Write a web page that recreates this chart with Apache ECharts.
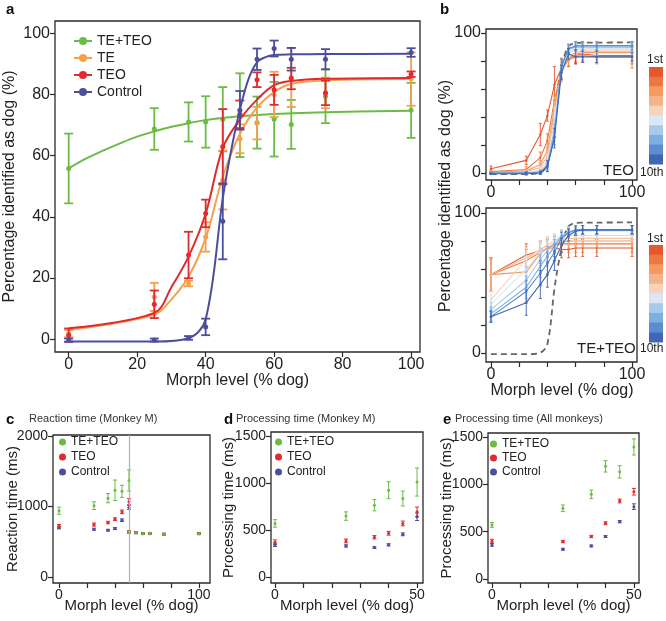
<!DOCTYPE html>
<html><head><meta charset="utf-8">
<script src="https://cdn.jsdelivr.net/npm/echarts@6/dist/echarts.min.js"></script>
<style>html,body{margin:0;padding:0;background:#fff}#chart{width:666px;height:621px}</style>
</head><body><div id="chart"></div>
<script>
// ---------------- DATA ----------------
// Panel a: percentage identified as dog
const morphA = [0, 25, 35, 40, 45, 50, 55, 60, 65, 75, 100];
const teTeoA = [55.8, 68.7, 71, 71, 71.9, 73.2, 70.8, 71.9, 70.2, 79.4, 74.8];
const teTeoAErr = [11.4, 6.8, 6.4, 8.4, 10.5, 13.7, 8.5, 12.2, 8, 8.8, 9];
const teA = [1.8, 13.8, 18.2, 33.4, 52, 65.5, 70.6, 80, 85.5, 80.5, 85];
const teAErr = [1.2, 4.6, 0.9, 4.8, 9.6, 4.7, 5.3, 7.4, 9.6, 5, 8.7];
const teoA = [1.3, 11.4, 27.5, 41.1, 62.9, 73.5, 84.8, 81.5, 85.2, 80.5, 86.6];
const teoAErr = [2.2, 4.5, 7.6, 4.5, 12.3, 4.5, 2.4, 4.9, 3.5, 4, 0.9];
const ctrlA = [-0.3, -0.3, 0.4, 4, 38.5, 74.8, 91.5, 95, 91.5, 91.5, 93.7];
const ctrlAErr = [0.5, 0.5, 0.6, 2.7, 12.4, 6.3, 3.5, 2.6, 3.7, 3.3, 1.4];
// fitted curves
const greenFitX = [0, 5, 10, 15, 20, 25, 30, 35, 40, 45, 50, 60, 75, 100];
const greenFit = [55.8, 59, 61.6, 64, 66.2, 67.9, 69.4, 70.6, 71.6, 72.3, 72.9, 73.6, 74.2, 74.7];
const orangeFitX = [0, 25, 30, 35, 40, 45, 50, 55, 60, 65, 75, 100];
const orangeFit = [3, 8, 13, 20.4, 33, 53, 67.2, 75.7, 80.8, 83.5, 84.6, 85];
const redFitX = [0, 25, 30, 35, 40, 45, 50, 55, 60, 65, 75, 100];
const redFit = [3.6, 8.6, 17, 27, 41, 62.5, 71.8, 78.3, 83, 84.4, 85.1, 85.4];
const blueFitX = [0, 25, 35, 40, 45, 47.5, 50, 52.5, 55, 57.5, 60, 65, 75, 100];
const blueFit = [-0.8, -0.8, 0.3, 6.5, 46, 62, 75, 85, 90.5, 92.2, 92.9, 93.1, 93.2, 93.3];

// Panel b: sessions 1st..10th
const sessionColors = ['#e4582c', '#ec7840', '#f29a62', '#f5b488', '#f6d3bd', '#dbe8f4', '#a8cbea', '#7eaedf', '#5b8ed0', '#3f67b3'];
const teoSess = [
  [3, 9, 27.5, 41, 63, 75, 82, 84, 85, 84, 84],
  [1, 2.5, 11, 23, 52, 73, 81, 83, 84, 83, 83],
  [0.5, 1.5, 6, 16, 47, 72, 82, 85, 86, 86, 86],
  [0, 1, 4, 12, 44, 71, 84, 86, 87, 87, 87],
  [0, 0.5, 2, 9, 40, 72, 86, 88, 88, 88, 88],
  [0, 0, 1.5, 7, 36, 73, 87, 89, 89, 89, 89],
  [0, 0, 1, 6, 32, 74, 88, 90, 90, 90, 90],
  [0, 0, 0.5, 5, 29, 76, 89, 90, 90, 90, 90],
  [0, 0, 0.5, 4, 26, 77, 89, 91, 91, 91, 91],
  [-0.5, -0.5, 0, 5, 25, 72, 85, 83, 83, 83, 83]
];
const teoSessErr = [
  [2, 3, 8, 4, 13, 7, 6, 5, 5, 5, 6],
  [1, 2, 4, 5, 9, 6, 5, 5, 5, 5, 8],
  [1, 1.5, 3, 5, 8, 6, 5, 5, 5, 5, 8],
  [0.5, 1, 3, 4, 7, 6, 4, 4, 4, 4, 6],
  [0.5, 1, 2, 4, 7, 5, 4, 4, 4, 4, 5],
  [0.5, 1, 2, 3, 7, 5, 4, 3, 3, 3, 4],
  [0.5, 1, 1.5, 3, 6, 5, 3, 3, 3, 3, 4],
  [0.5, 1, 1.5, 3, 6, 4, 3, 3, 3, 3, 3],
  [0.5, 1, 1, 3, 6, 4, 3, 3, 3, 3, 3],
  [0.5, 1, 1, 4, 7, 5, 4, 5, 4, 4, 3]
];
const teTeoSess = [
  [56, 70, 73, 75, 75, 74, 74, 75, 75, 75, 75],
  [56, 66, 72, 75, 77, 78, 78, 78, 78, 78, 78],
  [56, 58, 71, 75, 78, 79, 80, 80, 80, 80, 80],
  [56, 68, 74, 77, 80, 81, 82, 82, 82, 82, 82],
  [38, 67, 74, 77, 80, 82, 84, 84, 84, 84, 84],
  [35, 60, 72, 76, 80, 84, 86, 87, 87, 87, 87],
  [31, 52, 67, 73, 78, 84, 86, 88, 88, 88, 88],
  [28, 47, 62, 69, 76, 83, 86, 88, 88, 88, 88],
  [26, 44, 57, 64, 72, 82, 86, 88, 88, 88, 88],
  [26, 36, 49, 56, 66, 77, 84, 87, 88, 88, 88]
];
const teTeoSessErr = [
  [12, 8, 7, 6, 6, 6, 6, 6, 6, 6, 6],
  [12, 8, 7, 7, 6, 6, 6, 6, 6, 6, 6],
  [12, 9, 7, 6, 6, 5, 5, 5, 5, 5, 5],
  [10, 8, 6, 6, 5, 5, 5, 5, 5, 5, 5],
  [6, 8, 6, 6, 5, 5, 4, 4, 4, 4, 4],
  [6, 9, 7, 6, 5, 4, 4, 4, 4, 4, 4],
  [5, 9, 8, 7, 5, 4, 4, 3, 3, 3, 3],
  [5, 8, 8, 7, 5, 4, 3, 3, 3, 3, 3],
  [4, 8, 9, 8, 6, 4, 3, 3, 3, 3, 3],
  [4, 9, 10, 9, 7, 5, 4, 3, 3, 3, 3]
];

// Panels c-e
const morphCDE = [0, 25, 35, 40, 45, 50];
const rtTeTeo = [940, 1012, 1118, 1230, 1215, 1370];
const rtTeTeoErr = [50, 55, 65, 145, 85, 150];
const rtTeo = [720, 744, 772, 820, 924, 1066];
const rtTeoErr = [25, 22, 18, 20, 25, 45];
const rtCtrl = [701, 678, 664, 687, 806, 990];
const rtCtrlErr = [18, 14, 12, 14, 18, 30];
const morphDog = [50, 55, 60, 65, 75, 100];
const rtDogCtrl = [638, 626, 614, 614, 605, 612];
const rtDogTeo = [645, 632, 620, 620, 610, 618];
const rtDogTeTeo = [640, 628, 617, 617, 608, 615];
const rtDogErr = [15, 12, 10, 10, 10, 10];

const ptTeTeo = [570, 648, 764, 923, 835, 1011];
const ptTeTeoErr = [40, 45, 60, 90, 80, 150];
const ptTeo = [370, 384, 423, 465, 570, 694];
const ptTeoErr = [25, 20, 18, 20, 25, 50];
const ptCtrl = [342, 331, 313, 342, 454, 641];
const ptCtrlErr = [18, 12, 10, 12, 15, 40];

const ptAllTeTeo = [571, 747, 894, 1190, 1132, 1395];
const ptAllTeTeoErr = [25, 35, 45, 60, 65, 85];
const ptAllTeo = [400, 396, 449, 589, 824, 922];
const ptAllTeoErr = [20, 12, 12, 15, 20, 35];
const ptAllCtrl = [361, 315, 350, 449, 606, 764];
const ptAllCtrlErr = [15, 10, 10, 10, 12, 30];

// ---------------- STYLE / LAYOUT ----------------
const C_GREEN = '#6cbb45', C_ORANGE = '#f5a04c', C_RED = '#e02a2e', C_BLUE = '#4b4e9d';
const FONT = '"Liberation Sans", Arial, Helvetica, sans-serif';
const INK = '#222';

const gridBox = {show: true, borderColor: '#2a2a2a', borderWidth: 1.3, backgroundColor: 'transparent', outerBoundsMode: 'none', containLabel: false};
const grids = [
  {left: 55, top: 21, width: 365, height: 331},
  {left: 486, top: 29, width: 151, height: 151},
  {left: 486, top: 208, width: 151, height: 154},
  {left: 53, top: 435, width: 157, height: 148},
  {left: 271, top: 432, width: 152, height: 151},
  {left: 488, top: 433, width: 151, height: 150}
].map(g => Object.assign({}, gridBox, g));

function axis(grid, min, max, ticks, labels, fs, name, nameGap, nameFs) {
  return {
    type: 'value', gridIndex: grid, min: min, max: max,
    axisLine: {show: false, onZero: false},
    splitLine: {show: false},
    axisTick: {show: true, inside: false, length: 5, lineStyle: {color: '#2a2a2a', width: 1.2}, customValues: ticks},
    axisLabel: {customValues: labels, fontSize: fs, color: INK, fontFamily: FONT, margin: 5, formatter: v => String(v)},
    name: name || '', nameLocation: 'middle', nameGap: nameGap || 0, nameMoveOverlap: false,
    nameTextStyle: {fontSize: nameFs || 15, color: INK, fontFamily: FONT}
  };
}
const xAxes = [
  axis(0, -4, 102.6, [0, 20, 40, 60, 80, 100], [0, 20, 40, 60, 80, 100], 16, 'Morph level (% dog)', 21, 16),
  axis(1, -3.5, 103.5, [0, 20, 40, 60, 80, 100], [0, 100], 16),
  axis(2, -3.5, 103.5, [0, 20, 40, 60, 80, 100], [0, 100], 16),
  axis(3, -4.3, 107.9, [0, 20, 40, 60, 80, 100], [0, 100], 14, 'Morph level (% dog)', 15, 15),
  axis(4, -1.4, 52.1, [0, 10, 20, 30, 40, 50], [0, 50], 14, 'Morph level (% dog)', 15, 15),
  axis(5, -1.4, 51.8, [0, 10, 20, 30, 40, 50], [0, 50], 14, 'Morph level (% dog)', 15, 15)
];
const yAxes = [
  axis(0, -4.2, 104, [0, 20, 40, 60, 80, 100], [0, 20, 40, 60, 80, 100], 16, 'Percentage identified as dog (%)', 37, 16),
  axis(1, -5, 102.9, [0, 20, 40, 60, 80, 100], [0, 100], 16),
  axis(2, -6.4, 103.6, [0, 20, 40, 60, 80, 100], [0, 100], 16),
  axis(3, -85, 2014, [0, 1000, 2000], [0, 1000, 2000], 14, 'Reaction time (ms)', 33, 15),
  axis(4, -64, 1543, [0, 500, 1000, 1500], [0, 500, 1000, 1500], 14, 'Processing time (ms)', 35, 15),
  axis(5, -42, 1542, [0, 500, 1000, 1500], [0, 500, 1000, 1500], 14, 'Processing time (ms)', 34, 15)
];

const series = [];
// legend proxy series (carry legend styles)
[['TE+TEO', C_GREEN], ['TE', C_ORANGE], ['TEO', C_RED], ['Control', C_BLUE]].forEach(([n, c]) => {
  series.push({name: n, type: 'line', xAxisIndex: 0, yAxisIndex: 0, data: [], symbol: 'circle', symbolSize: 7,
    itemStyle: {color: c}, lineStyle: {color: c, width: 2}});
});

function errBars(gi, xs, ys, errs, color, cap, lw, z) {
  series.push({
    type: 'custom', xAxisIndex: gi, yAxisIndex: gi, z: z || 2, silent: true,
    data: xs.map((x, i) => [x, ys[i] - errs[i], ys[i] + errs[i]]),
    encode: {x: 0, y: [1, 2]},
    renderItem: function (params, api) {
      const lo = api.coord([api.value(0), api.value(1)]);
      const hi = api.coord([api.value(0), api.value(2)]);
      const h = cap / 2;
      const st = {stroke: color, lineWidth: lw};
      return {type: 'group', children: [
        {type: 'line', shape: {x1: lo[0], y1: lo[1], x2: hi[0], y2: hi[1]}, style: st},
        {type: 'line', shape: {x1: lo[0] - h, y1: lo[1], x2: lo[0] + h, y2: lo[1]}, style: st},
        {type: 'line', shape: {x1: hi[0] - h, y1: hi[1], x2: hi[0] + h, y2: hi[1]}, style: st}
      ]};
    }
  });
}
function dots(gi, xs, ys, color, size, z) {
  series.push({type: 'scatter', xAxisIndex: gi, yAxisIndex: gi, z: z || 3, silent: true, symbol: 'circle', symbolSize: size,
    itemStyle: {color: color, opacity: 1}, data: xs.map((x, i) => [x, ys[i]])});
}
function fitLine(gi, xs, ys, color, width, dashed, z) {
  series.push({type: 'line', xAxisIndex: gi, yAxisIndex: gi, z: z || 2, silent: true, showSymbol: false, symbol: 'none',
    smooth: 0.35,
    lineStyle: {color: color, width: width, type: dashed ? [6, 4] : 'solid'}, data: xs.map((x, i) => [x, ys[i]])});
}

// Panel a
[[teTeoA, teTeoAErr, C_GREEN, greenFitX, greenFit],
 [teA, teAErr, C_ORANGE, orangeFitX, orangeFit],
 [teoA, teoAErr, C_RED, redFitX, redFit],
 [ctrlA, ctrlAErr, C_BLUE, blueFitX, blueFit]].forEach(([v, e, c, fx, fy], k) => {
  errBars(0, morphA, v, e, c, 9, 1.8, 2 + k);
  fitLine(0, fx, fy, c, 2, false, 2 + k);
  dots(0, morphA, v, c, 5, 2 + k);
});

// Panel b
[[1, teoSess, teoSessErr], [2, teTeoSess, teTeoSessErr]].forEach(([gi, sess, errs]) => {
  fitLine(gi, blueFitX, blueFit, '#666', 1.8, true, 1);
  sess.forEach((vals, s) => {
    const c = sessionColors[s];
    errBars(gi, morphA, vals, errs[s], c, 3, 0.9, 2 + s);
    series.push({type: 'line', xAxisIndex: gi, yAxisIndex: gi, z: 2 + s, silent: true, symbol: 'circle', symbolSize: 2.5,
      itemStyle: {color: c}, lineStyle: {color: c, width: 1.1}, data: morphA.map((x, i) => [x, vals[i]])});
  });
});

// Panel c
[[rtCtrl, rtCtrlErr, C_BLUE], [rtTeo, rtTeoErr, C_RED], [rtTeTeo, rtTeTeoErr, C_GREEN]].forEach(([v, e, c]) => {
  errBars(3, morphCDE, v, e, c, 4, 1, 3);
  dots(3, morphCDE, v, c, 3, 4);
});
[[rtDogCtrl, C_BLUE], [rtDogTeo, C_RED], [rtDogTeTeo, C_GREEN]].forEach(([v, c]) => {
  errBars(3, morphDog, v, rtDogErr, c, 4, 1, 3);
  dots(3, morphDog, v, c, 3, 4);
});
series.push({type: 'scatter', xAxisIndex: 3, yAxisIndex: 3, data: [], silent: true,
  markLine: {silent: true, symbol: 'none', label: {show: false}, lineStyle: {color: '#b0b0b0', width: 1.2, type: 'solid'},
    data: [{xAxis: 50}]}});

// Panel d, e
[[4, [[ptCtrl, ptCtrlErr, C_BLUE], [ptTeo, ptTeoErr, C_RED], [ptTeTeo, ptTeTeoErr, C_GREEN]]],
 [5, [[ptAllCtrl, ptAllCtrlErr, C_BLUE], [ptAllTeo, ptAllTeoErr, C_RED], [ptAllTeTeo, ptAllTeTeoErr, C_GREEN]]]].forEach(([gi, sets]) => {
  sets.forEach(([v, e, c]) => {
    errBars(gi, morphCDE, v, e, c, 4, 1, 3);
    dots(gi, morphCDE, v, c, 3, 4);
  });
});

// Legends
const legendText = {fontSize: 14, color: INK, fontFamily: FONT, lineHeight: 14};
const smallLegendText = {fontSize: 12, color: INK, fontFamily: FONT, lineHeight: 12};
const dotItems = ['TE+TEO', 'TEO', 'Control'].map(n => ({name: n, icon: 'circle'}));
const legends = [
  {left: 68, top: 29, orient: 'vertical', itemWidth: 18, itemHeight: 10, itemGap: 3, selectedMode: false,
    data: ['TE+TEO', 'TE', 'TEO', 'Control'], textStyle: legendText},
  {left: 54, top: 431, orient: 'vertical', itemWidth: 7, itemHeight: 7, itemGap: 3, selectedMode: false, data: dotItems, textStyle: smallLegendText},
  {left: 270, top: 431, orient: 'vertical', itemWidth: 7, itemHeight: 7, itemGap: 3, selectedMode: false, data: dotItems, textStyle: smallLegendText},
  {left: 485, top: 433, orient: 'vertical', itemWidth: 7, itemHeight: 7, itemGap: 2, selectedMode: false, data: dotItems, textStyle: smallLegendText}
];

// Titles
const letter = {fontSize: 15, fontWeight: 'bold', color: '#111', fontFamily: FONT};
const sub = {fontSize: 11, fontWeight: 'normal', color: '#333', fontFamily: FONT};
const titles = [
  {text: 'a', left: 1, top: -3, textStyle: letter},
  {text: 'b', left: 435, top: -3, textStyle: letter},
  {text: 'c', left: 1, top: 407, textStyle: letter},
  {text: 'd', left: 219, top: 407, textStyle: letter},
  {text: 'e', left: 438, top: 407, textStyle: letter},
  {text: 'Reaction time (Monkey M)', left: 24, top: 408, textStyle: sub},
  {text: 'Processing time (Monkey M)', left: 231, top: 408, textStyle: sub},
  {text: 'Processing time (All monkeys)', left: 450, top: 408, textStyle: sub}
];

// Colour bars and other text for panel b
const graphic = [];
[[67, 97, 60, 173], [245, 97, 239, 349]].forEach(([top, h, y1st, y10th]) => {
  const cell = h / sessionColors.length;
  sessionColors.forEach((c, i) => {
    graphic.push({type: 'rect', left: 649, top: top + i * cell, shape: {width: 14, height: cell + 0.5}, style: {fill: c}, silent: true});
  });
  graphic.push({type: 'text', left: 647, top: y1st - 6, style: {text: '1st', fontSize: 12, fill: INK, fontFamily: FONT}});
  graphic.push({type: 'text', left: 640, top: y10th - 6, style: {text: '10th', fontSize: 12, fill: INK, fontFamily: FONT}});
});
graphic.push({type: 'text', left: 603, top: 163, style: {text: 'TEO', fontSize: 15, fill: INK, fontFamily: FONT}});
graphic.push({type: 'text', left: 577, top: 341, style: {text: 'TE+TEO', fontSize: 15, fill: INK, fontFamily: FONT}});
graphic.push({type: 'text', x: 446, y: 196, rotation: Math.PI / 2,
  style: {text: 'Percentage identified as dog (%)', fontSize: 16, fill: INK, fontFamily: FONT, align: 'center', verticalAlign: 'middle'}});
graphic.push({type: 'text', x: 562, y: 391,
  style: {text: 'Morph level (% dog)', fontSize: 16, fill: INK, fontFamily: FONT, align: 'center', verticalAlign: 'middle'}});

const chart = echarts.init(document.getElementById('chart'), null, {renderer: 'canvas'});
chart.setOption({
  animation: false,
  backgroundColor: '#ffffff',
  textStyle: {fontFamily: FONT},
  title: titles,
  legend: legends,
  grid: grids,
  xAxis: xAxes,
  yAxis: yAxes,
  series: series,
  graphic: graphic
});
</script>
</body></html>
